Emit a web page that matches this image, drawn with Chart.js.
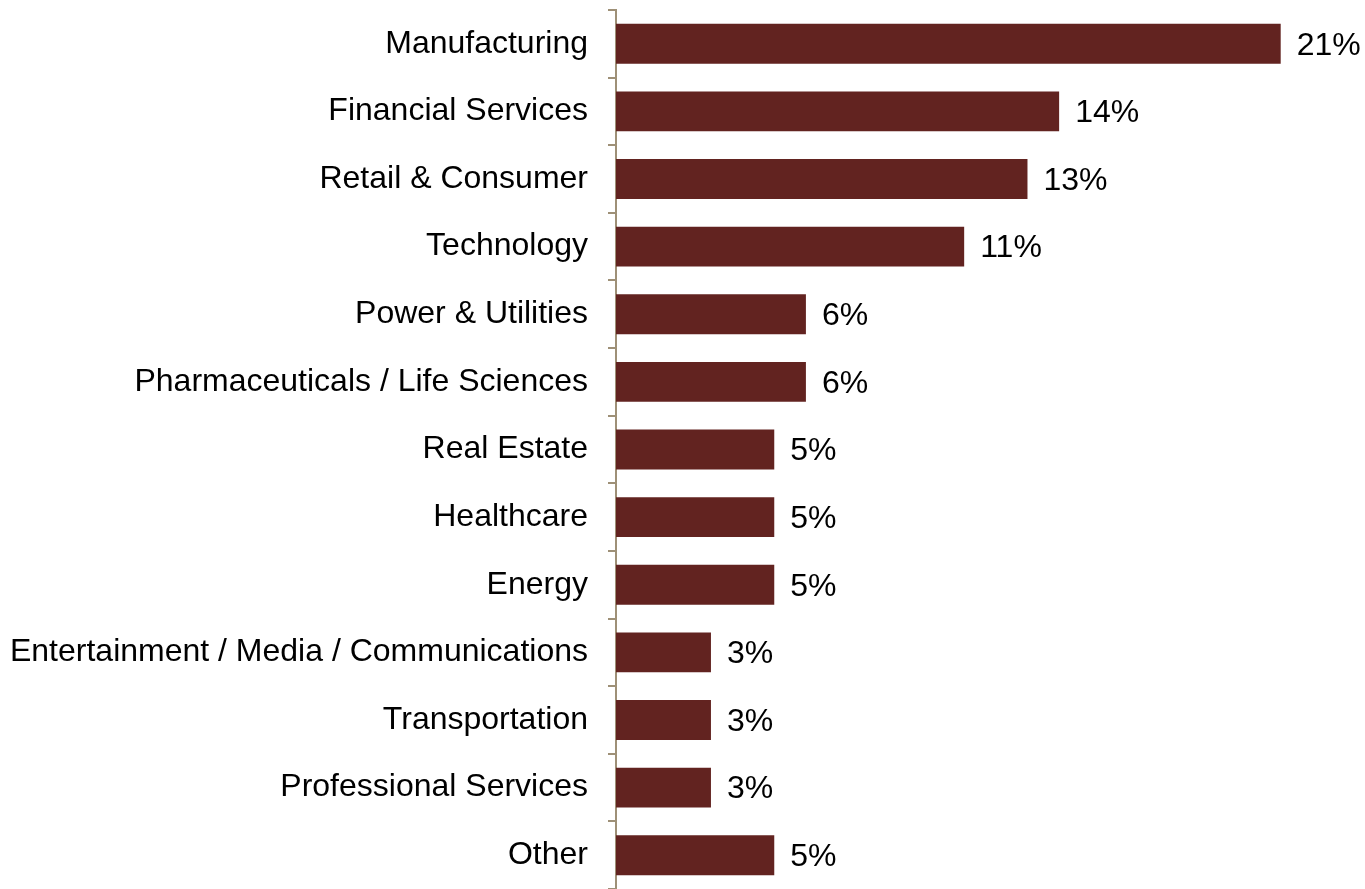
<!DOCTYPE html>
<html>
<head>
<meta charset="utf-8">
<title>Respondents by industry</title>
<script src="https://cdn.jsdelivr.net/npm/chart.js@4/dist/chart.umd.min.js"></script>
<style>
  html, body { margin: 0; padding: 0; background: #fff; }
  #chart { display: block; }
</style>
</head>
<body>
<canvas id="chart" width="1365" height="889"></canvas>
<script>
// industries, top to bottom
const industries = [
  'Manufacturing',
  'Financial Services',
  'Retail & Consumer',
  'Technology',
  'Power & Utilities',
  'Pharmaceuticals / Life Sciences',
  'Real Estate',
  'Healthcare',
  'Energy',
  'Entertainment / Media / Communications',
  'Transportation',
  'Professional Services',
  'Other'
];
// share of respondents, percent
const shares = [21, 14, 13, 11, 6, 6, 5, 5, 5, 3, 3, 3, 5];

const BAR_COLOR = '#622320';
const AXIS_COLOR = '#9e9077';
const FONT = 'Arial, "Liberation Sans", sans-serif';
const FONT_SIZE = 32;

// prints "n%" just past the end of each bar
const valueLabels = {
  id: 'valueLabels',
  afterDatasetsDraw(chart) {
    const ctx = chart.ctx;
    const meta = chart.getDatasetMeta(0);
    ctx.save();
    ctx.font = FONT_SIZE + 'px ' + FONT;
    ctx.fillStyle = '#000';
    ctx.textAlign = 'left';
    ctx.textBaseline = 'middle';
    meta.data.forEach((bar, i) => {
      ctx.fillText(shares[i] + '%', bar.x + 16, bar.y + 2);
    });
    ctx.restore();
  }
};

let chartInstance = new Chart(document.getElementById('chart'), {
  type: 'bar',
  data: {
    labels: industries,
    datasets: [{
      data: shares,
      backgroundColor: BAR_COLOR,
      borderWidth: 0,
      categoryPercentage: 1,
      barPercentage: 0.59
    }]
  },
  options: {
    indexAxis: 'y',
    responsive: false,
    animation: false,
    // axis runs a little past the bottom edge of the canvas
    layout: { padding: { top: 10, right: 21, bottom: -3, left: 0 } },
    plugins: {
      legend: { display: false },
      tooltip: { enabled: false }
    },
    scales: {
      x: {
        display: false,
        min: 0,
        max: 23
      },
      y: {
        afterFit(scale) {
          // fixed gutter for the labels, no extra room above/below the axis
          scale.width = 616;
          scale.paddingTop = 0;
          scale.paddingBottom = 0;
        },
        border: { display: true, color: AXIS_COLOR, width: 2 },
        grid: {
          offset: true,
          drawOnChartArea: false,
          drawTicks: true,
          tickLength: 8,
          color: AXIS_COLOR,
          lineWidth: 2
        },
        ticks: {
          padding: 20,
          color: '#000',
          font: { family: FONT, size: FONT_SIZE }
        }
      }
    }
  },
  plugins: [valueLabels]
});
</script>
</body>
</html>
